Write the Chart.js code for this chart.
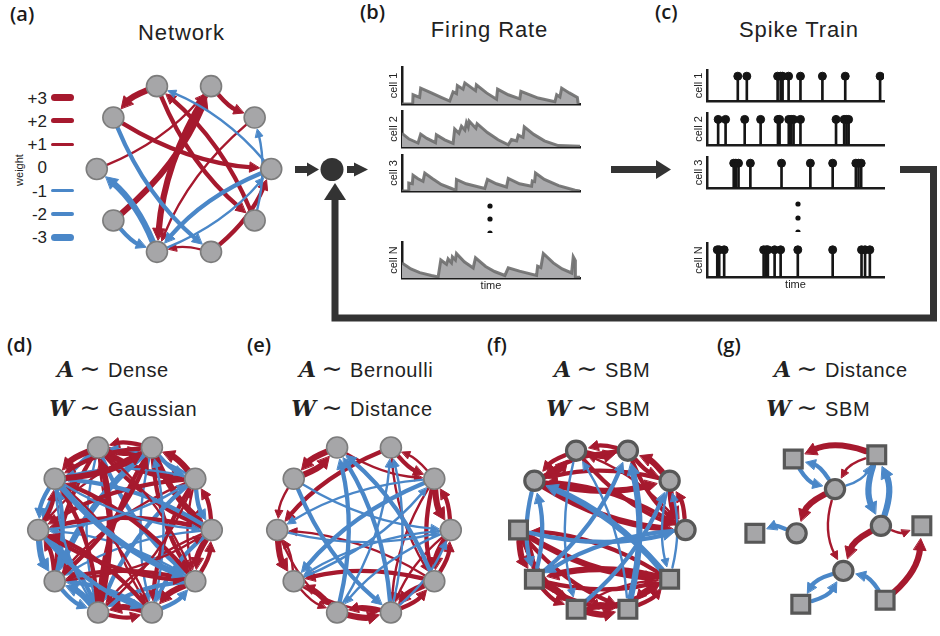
<!DOCTYPE html>
<html>
<head>
<meta charset="utf-8">
<script src="https://cdn.jsdelivr.net/npm/chart.js@4.4.0/dist/chart.umd.min.js"></script>
<style>
  html, body { margin: 0; padding: 0; background: #fff; }
  body { width: 940px; height: 636px; overflow: hidden; position: relative;
         font-family: "Liberation Sans", Arial, sans-serif; color: #222; }
  canvas { position: absolute; }
  svg { position: absolute; left: 0; top: 0; }
  .lbl { position: absolute; font-family: "Open Sans", sans-serif; font-weight: 600;
         font-size: 20px; line-height: 1; color: #1a1a1a; }
  .ttl { position: absolute; font-size: 22px; letter-spacing: 0.9px; line-height: 1;
         transform: translateX(-50%); white-space: nowrap; }
  .math { position: absolute; white-space: nowrap; font-size: 20px; line-height: 24px; letter-spacing: 0.6px; }
  .math .m { display: inline-block; width: 34px; text-align: right;
             font-family: "DejaVu Serif", serif; font-weight: bold; font-style: italic; font-size: 22px; letter-spacing: 0; }
  .math .t { display: inline-block; width: 32px; text-align: center; font-family: "DejaVu Sans", sans-serif;
             font-size: 25px; letter-spacing: 0; }
  .math .w { padding-left: 2px; }
  .key { position: absolute; font-size: 17px; line-height: 1; text-align: right; width: 30px; }
  .bar { position: absolute; border-radius: 4px; }
</style>
</head>
<body>

<svg width="940" height="636">
  <!-- network -> summation node -> firing rates -->
  <rect x="295" y="166" width="14" height="7" fill="#333"/>
  <polygon points="307,162.5 319,169.5 307,176.5" fill="#333"/>
  <circle cx="332" cy="169.5" r="11.5" fill="#333"/>
  <rect x="347" y="166" width="9" height="7" fill="#333"/>
  <polygon points="354,162.5 368,169.5 354,176.5" fill="#333"/>
  <!-- firing rates -> spike trains -->
  <rect x="611" y="166" width="47" height="7" fill="#333"/>
  <polygon points="656,160 671,169.5 656,179" fill="#333"/>
  <!-- feedback loop -->
  <polyline points="900,169.5 933.5,169.5 933.5,318 335,318 335,196" fill="none" stroke="#333" stroke-width="7"/>
  <polygon points="324,200 346,200 335,183" fill="#333"/>
  <!-- ellipsis -->
  <circle cx="490" cy="206" r="2.6" fill="#111"/>
  <circle cx="490" cy="219" r="2.6" fill="#111"/>
  <path d="M487.4,233 A2.6,2.6 0 0 1 492.6,233 Z" fill="#111"/>
  <circle cx="798" cy="204" r="2.6" fill="#111"/>
  <circle cx="798" cy="218" r="2.6" fill="#111"/>
  <path d="M795.4,232 A2.6,2.6 0 0 1 800.6,232 Z" fill="#111"/>
</svg>

<div class="lbl" style="left:10px; top:4px;">(a)</div>
<div class="lbl" style="left:360px; top:2px;">(b)</div>
<div class="lbl" style="left:655px; top:2px;">(c)</div>
<div class="lbl" style="left:7px; top:335px;">(d)</div>
<div class="lbl" style="left:247px; top:335px;">(e)</div>
<div class="lbl" style="left:487px; top:335px;">(f)</div>
<div class="lbl" style="left:717px; top:335px;">(g)</div>

<div class="ttl" style="left:181.5px; top:22px;">Network</div>
<div class="ttl" style="left:489.5px; top:19px;">Firing Rate</div>
<div class="ttl" style="left:799px; top:19px;">Spike Train</div>

<div class="math" style="left:40px; top:357px;"><span class="m">A</span><span class="t">∼</span><span class="w">Dense</span></div>
<div class="math" style="left:40px; top:396px;"><span class="m">W</span><span class="t">∼</span><span class="w">Gaussian</span></div>
<div class="math" style="left:282px; top:357px;"><span class="m">A</span><span class="t">∼</span><span class="w">Bernoulli</span></div>
<div class="math" style="left:282px; top:396px;"><span class="m">W</span><span class="t">∼</span><span class="w">Distance</span></div>
<div class="math" style="left:537px; top:357px;"><span class="m">A</span><span class="t">∼</span><span class="w">SBM</span></div>
<div class="math" style="left:537px; top:396px;"><span class="m">W</span><span class="t">∼</span><span class="w">SBM</span></div>
<div class="math" style="left:757px; top:357px;"><span class="m">A</span><span class="t">∼</span><span class="w">Distance</span></div>
<div class="math" style="left:757px; top:396px;"><span class="m">W</span><span class="t">∼</span><span class="w">SBM</span></div>

<div style="position:absolute; left:18.5px; top:169.5px; transform:translate(-50%,-50%) rotate(-90deg); font-size:11px;">weight</div>

<script>
// ---------------- data ----------------
const RED = '#a6192e';
const BLUE = '#4a87c8';

// ten nodes on a ring (layout units), clockwise from top-left
const ringX = [-0.31, 0.31, 0.81, 1.0, 0.81, 0.31, -0.31, -0.81, -1.0, -0.81];
const ringY = [0.95, 0.95, 0.59, 0.0, -0.59, -0.95, -0.95, -0.59, 0.0, 0.59];
const ringShapes = Array(10).fill('circle');
const sbmShapes = ['circle', 'circle', 'circle', 'circle', 'rect', 'rect', 'rect', 'rect', 'rect', 'circle'];

// legend weights
const weightKeys = [3, 2, 1, 0, -1, -2, -3];

// edges: [source, target, weight]
const netA = [
  [0, 9, 3], [1, 2, 2], [0, 4, 2], [4, 0, 2], [9, 3, 2], [8, 1, 1], [7, 1, 3], [1, 6, 3],
  [2, 6, 1], [5, 6, 1], [5, 3, 2],
  [3, 0, -1], [4, 2, -1], [9, 5, -2], [6, 8, -3], [7, 6, -2], [3, 6, -2], [6, 3, -1]
];
const netD = [
  [0, 1, 3], [1, 0, 2], [0, 2, 3], [2, 0, -1], [0, 3, 2], [0, 4, -2], [0, 5, 1], [0, 6, -1], [0, 7, 2], [0, 8, -2], [0, 9, 3],
  [1, 2, -2], [1, 3, 3], [1, 4, 2], [1, 5, -1], [1, 6, 2], [1, 7, -3], [1, 8, 1], [1, 9, 2],
  [2, 1, 3], [2, 3, -2], [2, 4, 1], [2, 5, 2], [2, 6, -2], [2, 7, 1], [2, 8, 2], [2, 9, -1],
  [3, 2, 2], [3, 4, 3], [3, 5, -2], [3, 6, 1], [3, 7, -1], [3, 8, 2], [3, 9, -2],
  [4, 3, 2], [4, 5, 3], [4, 6, -2], [4, 7, 2], [4, 8, -1], [4, 9, 2], [4, 0, 1],
  [5, 4, -2], [5, 6, 3], [5, 7, -2], [5, 8, 2], [5, 9, 1], [5, 1, -1],
  [6, 5, 2], [6, 7, -3], [6, 8, -2], [6, 9, 2], [6, 0, 3], [6, 2, 1],
  [7, 6, -2], [7, 8, 2], [7, 9, -2], [7, 3, 1], [7, 1, 2],
  [8, 7, -3], [8, 9, 2], [8, 2, -1], [8, 4, 2], [8, 5, -2],
  [9, 8, -2], [9, 1, 3], [9, 3, -1], [9, 4, -3], [9, 6, -1]
];
const netE = [
  [0, 9, 3], [9, 0, 3], [1, 8, 2], [8, 7, 3], [7, 8, 1], [1, 2, 2], [2, 1, 1], [0, 2, 1],
  [2, 3, 3], [3, 2, 2], [3, 4, 3], [4, 3, 2], [2, 4, 2], [4, 5, 3], [5, 4, 2], [3, 5, 1],
  [5, 6, 2], [6, 5, 3], [6, 7, 2], [7, 6, 1], [8, 6, 1], [7, 5, 1], [4, 7, 2], [9, 8, 1],
  [4, 8, 1], [2, 5, 1], [1, 4, 1],
  [9, 3, -1], [8, 3, -1], [2, 7, -2], [3, 7, -1], [4, 0, -2], [5, 0, -2], [6, 0, -2],
  [6, 1, -1], [5, 1, -1], [3, 6, -1], [9, 5, -2], [2, 8, -1], [7, 2, -1], [5, 3, -1]
];
const netF = [
  [0, 1, 3], [1, 0, 2], [9, 0, 3], [0, 9, 2], [1, 2, 2], [2, 1, 3], [2, 3, 3], [3, 2, 2],
  [9, 2, 3], [2, 9, 2], [9, 3, 3], [3, 9, 2], [0, 3, 2], [1, 9, 2], [3, 0, 1], [1, 3, 2],
  [8, 7, 3], [7, 8, 2], [8, 4, 3], [4, 8, 2], [7, 4, 2], [4, 7, 3], [6, 5, 3], [5, 6, 2],
  [7, 6, 2], [6, 7, 2], [4, 5, 2], [5, 4, 2], [7, 5, 2], [6, 4, 2], [8, 5, 2], [4, 6, 1], [8, 6, 2],
  [5, 1, -3], [7, 9, -2], [9, 7, -2], [7, 1, -2], [4, 9, -3], [5, 0, -1], [6, 2, -2],
  [8, 3, -2], [4, 2, -1], [2, 4, -1], [0, 6, -1], [3, 7, -2]
];

// spatial network (g)
const gX = [-0.44, 0.56, -0.90, 1.10, -0.35, 0.66, 0.06, -0.40, 0.61, 0.16];
const gY = [0.85, 0.90, -0.04, 0.05, -0.89, -0.84, 0.49, -0.04, 0.05, -0.49];
const gShapes = ['rect', 'rect', 'rect', 'rect', 'rect', 'rect', 'circle', 'circle', 'circle', 'circle'];
const netG = [
  [1, 0, 3], [1, 6, 1], [0, 6, -2], [6, 0, -2], [6, 1, -1], [1, 8, -3], [8, 1, -3],
  [6, 7, 3], [6, 9, 1], [7, 2, -2], [8, 3, 1], [8, 9, 3], [9, 4, -2], [4, 9, -2],
  [5, 9, -2], [5, 3, 3]
];

// firing rates: [time, rate]
const cellLabels = ['cell 1', 'cell 2', 'cell 3', 'cell N'];
const rateCell1 = [[0, 0], [6, 0], [6.2, 0.25], [9.9, 0.18], [10.5, 0.43], [16.5, 0.3], [22, 0.18], [26.8, 0.08],
  [28.7, 0.33], [30.6, 0.28], [31.1, 0.5], [34.3, 0.4], [35.3, 0.57], [41.3, 0.36], [41.8, 0.52], [47.5, 0.3],
  [53.1, 0.13], [53.7, 0.4], [59.7, 0.25], [66.2, 0.14], [66.8, 0.34], [76.5, 0.16], [85.9, 0.06], [86.9, 0.25],
  [88.7, 0.19], [89.7, 0.43], [94, 0.3], [98.5, 0.18], [99, 0]];
const rateCell2 = [[0, 0.38], [4, 0.22], [9, 0.11], [10.5, 0.36], [14, 0.24], [18.8, 0.12], [19.3, 0.34], [24, 0.2],
  [28.7, 0.1], [29.6, 0.5], [32, 0.38], [33.4, 0.58], [35.3, 0.47], [36.2, 0.68], [37.2, 0.56], [37.7, 0.72],
  [41.5, 0.52], [42.2, 0.65], [48, 0.4], [54, 0.2], [59.7, 0.06], [61.5, 0.21], [64.4, 0.17], [65.3, 0.33],
  [68, 0.27], [68.7, 0.56], [74, 0.35], [80, 0.17], [87.8, 0.04], [100, 0.02]];
const rateCell3 = [[0, 0], [3.4, 0], [3.8, 0.22], [5.8, 0.2], [6.2, 0.44], [9, 0.34], [11.8, 0.27], [12.8, 0.5],
  [17, 0.35], [22, 0.18], [27.8, 0.07], [30.3, 0.02], [30.6, 0.32], [36, 0.2], [46.5, 0.07], [48, 0.32],
  [53, 0.2], [58.7, 0.11], [59.7, 0.35], [66, 0.2], [72.8, 0.13], [73.2, 0.28], [74.5, 0.26], [75, 0.5],
  [80, 0.32], [88, 0.15], [97.2, 0.02], [100, 0]];
const rateCellN = [[0, 0.42], [5, 0.25], [10, 0.15], [16.5, 0.07], [20.3, 0.03], [21.8, 0.5], [25, 0.38],
  [25.9, 0.53], [27.8, 0.42], [28.3, 0.59], [30, 0.5], [30.6, 0.68], [35, 0.45], [40, 0.28], [41.3, 0.56],
  [47, 0.32], [52, 0.18], [57.8, 0.07], [59.7, 0.28], [66, 0.19], [75.6, 0.07], [76.2, 0.33], [78, 0.29],
  [79.4, 0.68], [85, 0.42], [90, 0.25], [95.3, 0.14], [96.2, 0.59], [97.2, 0.5], [97.4, 0.02], [100, 0.02]];

// spike times
const spikeCell1 = [17.4, 22.5, 39.9, 41.6, 42.7, 46.1, 52.8, 65.2, 78.1, 97.8];
const spikeCell2 = [6.3, 10.5, 21.3, 30.3, 40.1, 41, 46.2, 47.6, 48.9, 52.8, 72.9, 77.5, 78.8, 80];
const spikeCell3 = [15.1, 16.3, 17.8, 24.5, 42.1, 58.4, 71, 84.1, 85.6, 87.1];
const spikeCellN = [5.8, 6.9, 9.7, 32, 33.5, 34.4, 38.2, 41.6, 51.3, 71, 87.3, 89.3, 92];
const spikeHeight = 0.8;

// ---------------- helpers ----------------
Chart.defaults.font.family = '"Liberation Sans", Arial, sans-serif';
Chart.defaults.color = '#222';

function edgeWidth(w) { return 1.9 * Math.abs(w) + 0.5; }

function makeCanvas(left, top, w, h) {
  const c = document.createElement('canvas');
  c.width = w; c.height = h;
  c.style.left = left + 'px'; c.style.top = top + 'px';
  document.body.appendChild(c);
  return c;
}

// draws curved, arrow-headed edges under the node points
function edgeLayer(edges, xs, ys, trims, rad) {
  return {
    id: 'edgeLayer',
    beforeDatasetsDraw(chart) {
      const { ctx, scales: { x, y } } = chart;
      ctx.save();
      edges.forEach(([s, t, w]) => {
        const x1 = x.getPixelForValue(xs[s]), y1 = y.getPixelForValue(ys[s]);
        const x2 = x.getPixelForValue(xs[t]), y2 = y.getPixelForValue(ys[t]);
        const dx = x2 - x1, dy = y2 - y1;
        const cx = (x1 + x2) / 2 - rad * dy, cy = (y1 + y2) / 2 + rad * dx;
        const col = w > 0 ? RED : BLUE;
        const ul = Math.hypot(cx - x1, cy - y1);
        const sx = x1 + (cx - x1) / ul * trims[s], sy = y1 + (cy - y1) / ul * trims[s];
        let vx = x2 - cx, vy = y2 - cy;
        const vl = Math.hypot(vx, vy);
        vx /= vl; vy /= vl;
        const tx = x2 - vx * (trims[t] + 1), ty = y2 - vy * (trims[t] + 1);
        const hl = 6 + 1.8 * Math.abs(w), hw = 2.6 + 1.2 * Math.abs(w);
        const bx = tx - vx * hl, by = ty - vy * hl;
        ctx.strokeStyle = col; ctx.fillStyle = col;
        ctx.lineWidth = edgeWidth(w); ctx.lineCap = 'round';
        ctx.beginPath(); ctx.moveTo(sx, sy); ctx.quadraticCurveTo(cx, cy, bx + vx * 2, by + vy * 2); ctx.stroke();
        ctx.lineWidth = 1; ctx.lineJoin = 'miter';
        ctx.beginPath();
        ctx.moveTo(tx, ty);
        ctx.lineTo(bx - vy * hw, by + vx * hw);
        ctx.lineTo(bx + vy * hw, by - vx * hw);
        ctx.closePath(); ctx.fill(); ctx.stroke();
      });
      ctx.restore();
    }
  };
}

function networkChart(cx, cy, xs, ys, shapes, edges, st) {
  const half = 110, R = st.R || 97.5, m = half / R;
  const canvas = makeCanvas(cx - half, cy - half, 2 * half, 2 * half);
  return new Chart(canvas, {
    type: 'scatter',
    data: {
      datasets: [{
        data: xs.map((v, i) => ({ x: v, y: ys[i] })),
        pointStyle: shapes,
        pointRadius: shapes.map(s => s === 'rect' ? st.rectR : st.circR),
        backgroundColor: '#a6a6a8',
        borderColor: st.border,
        borderWidth: st.bw,
        clip: false
      }]
    },
    options: {
      responsive: false, animation: false, events: [], devicePixelRatio: 1,
      layout: { padding: 0 },
      plugins: { legend: { display: false }, tooltip: { enabled: false } },
      scales: { x: { display: false, min: -m, max: m }, y: { display: false, min: -m, max: m } }
    },
    plugins: [edgeLayer(edges, xs, ys, shapes.map(s => s === 'rect' ? st.rectTrim : st.circTrim), st.rad)]
  });
}

function axisOpts(extra) {
  return Object.assign({
    grid: { display: false },
    ticks: { display: false },
    border: { display: true, color: '#1b1b1b', width: 2.5 }
  }, extra);
}

function panelChart(left, top, bottom, right, label, last, datasets, type) {
  const yw = 22, padTop = 2, padBottom = last ? 0 : 3, xh = last ? 15 : 0;
  const w = Math.round(right - left + yw + 4);
  const h = Math.round(bottom - top + padTop + padBottom + xh);
  const canvas = makeCanvas(left - yw, top - padTop, w, h);
  return new Chart(canvas, {
    type: type,
    data: { datasets: datasets },
    options: {
      responsive: false, animation: false, events: [], devicePixelRatio: 1,
      layout: { padding: { top: padTop, bottom: padBottom, left: 0, right: 4 } },
      plugins: { legend: { display: false }, tooltip: { enabled: false } },
      scales: {
        x: axisOpts({
          type: 'linear', min: 0, max: 100, offset: false,
          title: { display: last, text: 'time', font: { size: 11 }, padding: { top: 0, bottom: 0 } },
          afterFit(s) { s.height = xh; }
        }),
        y: axisOpts({
          min: 0, max: 1,
          title: { display: true, text: label, font: { size: 11 }, padding: { top: 7, bottom: 0 } },
          afterFit(s) { s.width = yw; }
        })
      }
    }
  });
}

// ---------------- (a) legend ----------------
weightKeys.forEach((k, i) => {
  const yc = 97.5 + i * 23.3;
  const t = document.createElement('div');
  t.className = 'key';
  t.style.left = '17px'; t.style.top = (yc - 8) + 'px';
  t.textContent = k > 0 ? '+' + k : String(k);
  document.body.appendChild(t);
  if (k !== 0) {
    const b = document.createElement('div');
    const lw = edgeWidth(k) + 0.6;
    b.className = 'bar';
    b.style.left = '51px'; b.style.width = '23px';
    b.style.top = (yc - lw / 2) + 'px'; b.style.height = lw + 'px';
    b.style.background = k > 0 ? RED : BLUE;
    document.body.appendChild(b);
  }
});

// ---------------- networks ----------------
const plainNodes = { circR: 10.5, rectR: 13, border: '#7c7c7c', bw: 1.6, circTrim: 11, rectTrim: 12, rad: 0.12 };
const blockNodes = { circR: 9.6, rectR: 12.6, border: '#575757', bw: 3.2, circTrim: 12, rectTrim: 12, rad: 0.12 };

networkChart(184, 169, ringX, ringY, ringShapes, netA, Object.assign({}, plainNodes, { R: 98 }));
networkChart(124.5, 530, ringX, ringY, ringShapes, netD, plainNodes);
networkChart(363.5, 530, ringX, ringY, ringShapes, netE, plainNodes);
networkChart(601.5, 530, ringX, ringY, sbmShapes, netF, blockNodes);
networkChart(830, 530, gX, gY, gShapes, netG, Object.assign({}, blockNodes, { rad: 0.2 }));

// ---------------- (b) firing rates ----------------
const rateRows = [[67, 104], [111, 147], [155, 191], [242, 278]];
[rateCell1, rateCell2, rateCell3, rateCellN].forEach((cell, i) => {
  panelChart(402, rateRows[i][0], rateRows[i][1], 580, cellLabels[i], i === 3, [{
    data: cell.map(p => ({ x: p[0], y: p[1] })),
    fill: 'origin',
    backgroundColor: '#ababad',
    borderColor: 'rgba(110,110,110,0.9)',
    borderWidth: 3,
    pointRadius: 0,
    tension: 0
  }], 'line');
});

// ---------------- (c) spike trains ----------------
const spikeRows = [[67, 103], [110, 147], [154, 190], [240, 277]];
[spikeCell1, spikeCell2, spikeCell3, spikeCellN].forEach((cell, i) => {
  const pts = cell.map(t => ({ x: t, y: spikeHeight }));
  panelChart(707, spikeRows[i][0], spikeRows[i][1], 885, cellLabels[i], i === 3, [
    { type: 'bar', data: pts, backgroundColor: '#151515', barThickness: 2 },
    { type: 'scatter', data: pts, backgroundColor: '#151515', borderColor: '#151515', pointRadius: 4 }
  ], 'bar');
});
</script>
</body>
</html>
